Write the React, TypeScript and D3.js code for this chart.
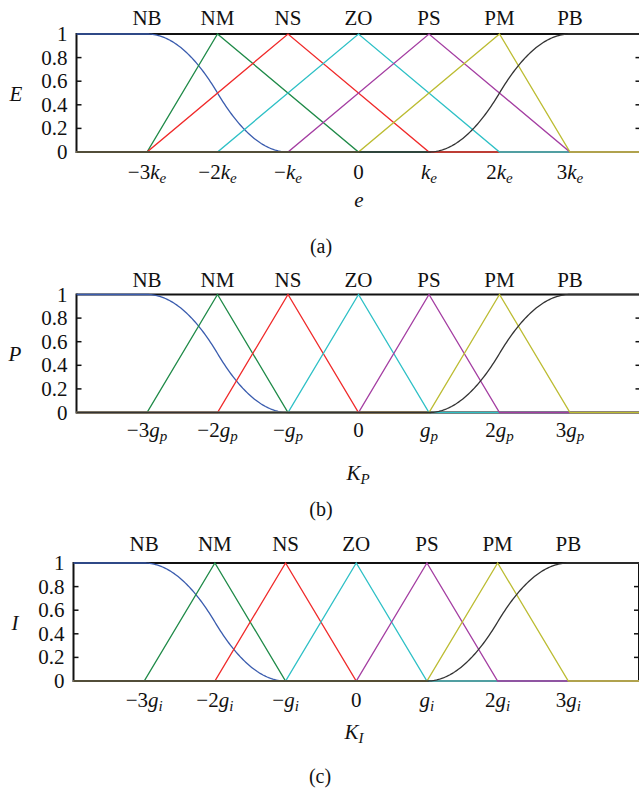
import React from "react";
import * as d3 from "d3";

// ---------- data ----------
const mfNames = ["NB", "NM", "NS", "ZO", "PS", "PM", "PB"];
const xTickValues = [-3, -2, -1, 0, 1, 2, 3];
const xTickCoeffs = ["−3", "−2", "−", "0", "", "2", "3"];
const yTickValues = [0, 0.2, 0.4, 0.6, 0.8, 1];
const yTickLabels = ["0", "0.2", "0.4", "0.6", "0.8", "1"];
const xDomain = [-4, 4];

// membership function parameters: NB = zmf [a,b], middle ones = trimf [a,b,c], PB = smf [a,b]
const mfParamsE = [
  [-3, -1],
  [-3, -2, 0],
  [-3, -1, 1],
  [-2, 0, 2],
  [-1, 1, 3],
  [0, 2, 3],
  [1, 3],
];
const mfParamsP = [
  [-3, -1],
  [-3, -2, -1],
  [-2, -1, 0],
  [-1, 0, 1],
  [0, 1, 2],
  [1, 2, 3],
  [1, 3],
];
const mfParamsI = [
  [-3, -1],
  [-3, -2, -1],
  [-2, -1, 0],
  [-1, 0, 1],
  [0, 1, 2],
  [1, 2, 3],
  [1, 3],
];

const yVars = ["E", "P", "I"];
const tickVars = ["k", "g", "g"];
const tickSubs = ["e", "p", "i"];
const axisVars = ["e", "K", "K"];
const axisSubs = ["", "P", "I"];
const captions = ["(a)", "(b)", "(c)"];

// ---------- styles / layout ----------
const colors = ["#3a5cae", "#1f8a48", "#f02a2a", "#2ec0c6", "#a43ea2", "#bcbc32", "#333333"];
const FONT = "Liberation Serif, Times New Roman, serif";

const layouts = [
  { left: 76.5, right: 640.5, top: 34, bottom: 152, names: 25, ticks: 179, axis: 207, cap: 253, yLab: 16, yLabY: 101, axisX: 359, capX: 321 },
  { left: 76.5, right: 640.5, top: 294.5, bottom: 412.5, names: 287, ticks: 437, axis: 480, cap: 516, yLab: 15, yLabY: 361, axisX: 358, capX: 321 },
  { left: 73.5, right: 639, top: 563, bottom: 681, names: 551, ticks: 707, axis: 739, cap: 783, yLab: 15, yLabY: 630, axisX: 354, capX: 320 },
];

function zmf(x: number, a: number, b: number) {
  if (x <= a) return 1;
  if (x >= b) return 0;
  const m = (a + b) / 2;
  if (x <= m) return 1 - 2 * ((x - a) / (b - a)) ** 2;
  return 2 * ((x - b) / (b - a)) ** 2;
}

function mfPoints(p: number[], idx: number): [number, number][] {
  if (p.length === 3) {
    return [
      [xDomain[0], 0],
      [p[0], 0],
      [p[1], 1],
      [p[2], 0],
      [xDomain[1], 0],
    ];
  }
  const xs = d3.range(xDomain[0], xDomain[1] + 1e-9, 0.02);
  if (idx === 0) return xs.map((x) => [x, zmf(x, p[0], p[1])]);
  return xs.map((x) => [x, 1 - zmf(x, p[0], p[1])]);
}

function Panel({ i, params }: { i: number; params: number[][] }) {
  const L = layouts[i];
  const x = d3.scaleLinear().domain(xDomain).range([L.left, L.right]);
  const y = d3.scaleLinear().domain([0, 1]).range([L.bottom, L.top]);
  const line = d3
    .line<[number, number]>()
    .x((d) => x(d[0]))
    .y((d) => y(d[1]));

  return (
    <g fontFamily={FONT} fill="#111">
      {/* axes box */}
      <line x1={L.left} x2={L.right} y1={y(1)} y2={y(1)} stroke="#111" strokeWidth={2} />
      <line x1={L.left} x2={L.right} y1={y(0)} y2={y(0)} stroke="#4a4838" strokeWidth={2.2} />
      <line x1={L.left} x2={L.left} y1={y(1) - 1} y2={y(0) + 1} stroke="#111" strokeWidth={2} />
      <line x1={L.right} x2={L.right} y1={y(1) - 1} y2={y(0) + 1} stroke="#111" strokeWidth={2} />
      {yTickValues.map((v, k) => (
        <g key={"yt" + k}>
          {v > 0 && v < 1 && (
            <>
              <line x1={L.left} x2={L.left + 5} y1={y(v)} y2={y(v)} stroke="#111" strokeWidth={1.5} />
              <line x1={L.right - 5} x2={L.right} y1={y(v)} y2={y(v)} stroke="#111" strokeWidth={1.5} />
            </>
          )}
          <text x={L.left - 9} y={y(v) + 7} textAnchor="end" fontSize={21}>
            {yTickLabels[k]}
          </text>
        </g>
      ))}
      {/* membership functions */}
      {params.map((p, k) => (
        <path
          key={"mf" + k}
          d={line(mfPoints(p, k)) || ""}
          fill="none"
          stroke={colors[k]}
          strokeWidth={1.3}
        />
      ))}
      {/* MF names */}
      {mfNames.map((nm, k) => (
        <text key={"n" + k} x={x(xTickValues[k])} y={L.names} textAnchor="middle" fontSize={21}>
          {nm}
        </text>
      ))}
      {/* x tick labels */}
      {xTickValues.map((v, k) => (
        <text key={"xt" + k} x={x(v)} y={L.ticks} textAnchor="middle" fontSize={21}>
          {xTickCoeffs[k]}
          {v !== 0 && (
            <>
              <tspan fontStyle="italic">{tickVars[i]}</tspan>
              <tspan fontStyle="italic" fontSize={15} dy={4}>
                {tickSubs[i]}
              </tspan>
            </>
          )}
        </text>
      ))}
      {/* y label */}
      <text x={L.yLab} y={L.yLabY} textAnchor="middle" fontSize={21} fontStyle="italic">
        {yVars[i]}
      </text>
      {/* x axis label */}
      <text x={L.axisX} y={L.axis} textAnchor="middle" fontSize={21} fontStyle="italic">
        {axisVars[i]}
        {axisSubs[i] && (
          <tspan fontSize={15} dy={4}>
            {axisSubs[i]}
          </tspan>
        )}
      </text>
      {/* caption */}
      <text x={L.capX} y={L.cap} textAnchor="middle" fontSize={20}>
        {captions[i]}
      </text>
    </g>
  );
}

export default function App() {
  const allParams = [mfParamsE, mfParamsP, mfParamsI];
  return (
    <svg
      width={639}
      height={791}
      style={{ position: "absolute", left: 0, top: 0, background: "#fff" }}
    >
      <rect width={639} height={791} fill="#fff" />
      {allParams.map((p, i) => (
        <Panel key={i} i={i} params={p} />
      ))}
    </svg>
  );
}
